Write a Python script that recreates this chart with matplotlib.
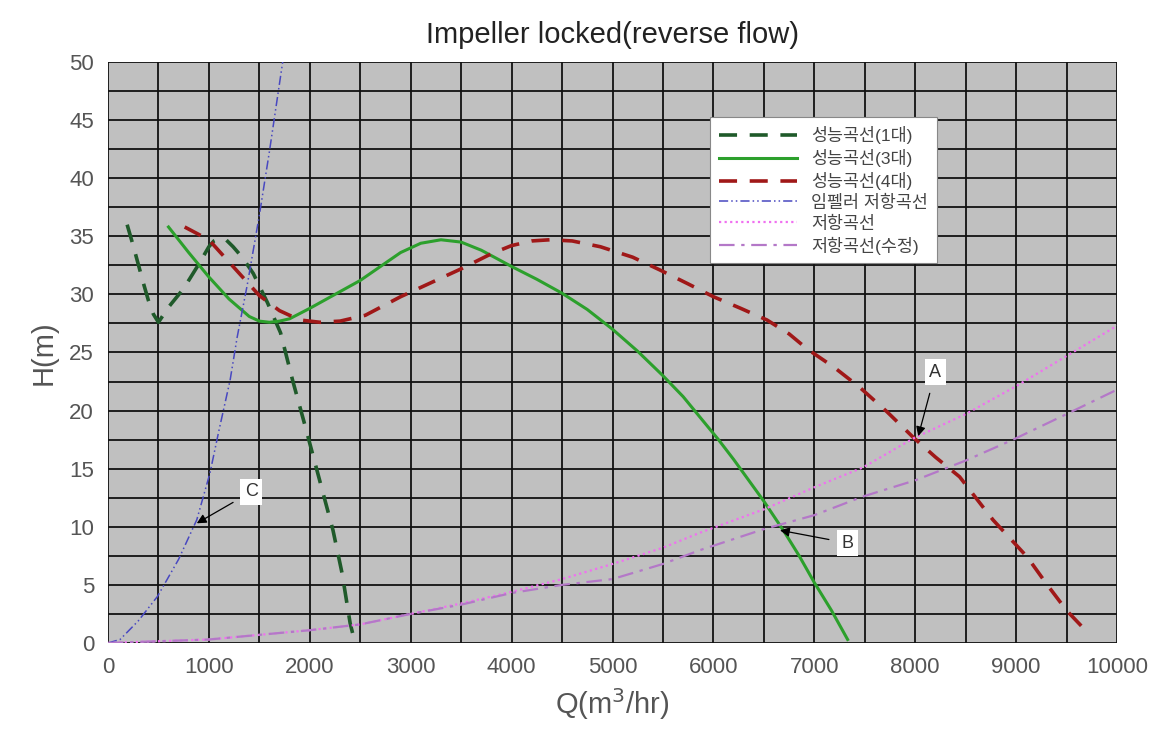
import matplotlib
matplotlib.use("Agg")
import matplotlib.pyplot as plt
from matplotlib.ticker import MultipleLocator

plt.rcParams['font.family'] = ['Liberation Sans', 'Noto Sans CJK KR', 'DejaVu Sans']

# Performance curve (1 unit)
q1 = [190, 250, 300, 350, 400, 450, 500, 600, 750, 900, 1000, 1050, 1100, 1170, 1240, 1330, 1440, 1580, 1710, 1830, 1950, 2070, 2150, 2230, 2320, 2400, 2440]
h1 = [36.0, 34.2, 32.6, 31.0, 29.5, 28.3, 27.6, 28.9, 30.5, 32.6, 34.1, 34.6, 34.8, 34.7, 34.1, 33.2, 31.8, 29.3, 26.7, 22.6, 18.8, 14.9, 12.3, 9.7, 6.0, 1.7, 0.3]

# Performance curve (3 units)
q3 = [600, 800, 1000, 1200, 1400, 1500, 1600, 1700, 1800, 2000, 2250, 2500, 2700, 2900, 3100, 3300, 3500, 3700, 4000, 4250, 4500, 4750, 5000, 5250, 5500, 5700, 5870, 6050, 6200, 6350, 6500, 6700, 6850, 7000, 7170, 7330]
h3 = [35.8, 33.6, 31.5, 29.6, 28.1, 27.7, 27.6, 27.7, 27.9, 28.8, 30.0, 31.2, 32.4, 33.6, 34.4, 34.7, 34.5, 33.8, 32.4, 31.3, 30.1, 28.7, 27.0, 25.1, 23.0, 21.2, 19.4, 17.5, 15.8, 14.0, 12.2, 9.6, 7.5, 5.2, 2.8, 0.3]

# Performance curve (4 units)
q4 = [760, 1000, 1250, 1500, 1700, 1900, 2100, 2300, 2550, 2900, 3200, 3500, 3800, 4000, 4200, 4380, 4600, 4880, 5200, 5470, 5750, 6000, 6270, 6530, 6750, 6930, 7200, 7450, 7720, 7980, 8200, 8440, 8600, 8770, 8940, 9110, 9300, 9500, 9730]
h4 = [35.8, 34.7, 32.3, 29.9, 28.6, 27.8, 27.6, 27.7, 28.2, 29.8, 31.0, 32.2, 33.5, 34.2, 34.6, 34.7, 34.6, 34.1, 33.2, 32.1, 30.9, 29.8, 28.8, 27.8, 26.6, 25.3, 23.7, 22.0, 19.9, 17.7, 16.0, 14.3, 12.5, 10.6, 9.0, 7.4, 5.1, 2.8, 0.7]

# Impeller resistance curve
qi = [0, 120, 300, 490, 700, 880, 1010, 1100, 1210, 1280, 1380, 1500, 1600, 1740]
hi = [0.0, 0.3, 1.9, 4.0, 7.2, 10.6, 14.6, 18.3, 22.6, 26.3, 30.8, 36.8, 42.3, 50.5]

# Resistance curve
qr = [0, 1000, 2000, 2500, 3000, 3500, 4000, 4500, 5000, 5500, 5870, 6500, 7000, 7480, 7980, 8500, 9000, 9500, 10000]
hr = [0.0, 0.3, 1.1, 1.6, 2.5, 3.4, 4.4, 5.5, 6.8, 8.2, 9.5, 11.5, 13.4, 15.1, 17.6, 19.7, 22.1, 24.7, 27.3]

# Resistance curve (modified)
qm = [0, 1000, 2000, 2500, 3000, 3500, 4000, 4500, 5000, 5500, 5870, 6500, 7000, 7480, 8000, 8500, 8970, 9500, 10000]
hm = [0.0, 0.3, 1.1, 1.6, 2.5, 3.3, 4.3, 5.0, 5.5, 6.8, 8.0, 9.8, 11.0, 12.6, 14.0, 15.7, 17.5, 19.7, 21.8]

labels = ['성능곡선(1대)', '성능곡선(3대)', '성능곡선(4대)', '임펠러 저항곡선', '저항곡선', '저항곡선(수정)']

# Annotations: label, arrow target, text position
ann_labels = ['A', 'B', 'C']
ann_xy = [(8030, 17.8), (6660, 9.7), (880, 10.3)]
ann_text = [(8200, 23.3), (7330, 8.6), (1420, 13.0)]

fig = plt.figure(figsize=(11.56, 7.31), dpi=100)
ax = fig.add_axes([0.0934, 0.1204, 0.8729, 0.7948])
ax.set_facecolor('#C0C0C0')

ax.plot(q1, h1, color='#1F5A2A', lw=2.6, ls=(0, (5, 3.5)), label=labels[0])
ax.plot(q3, h3, color='#2CA02C', lw=2.2, ls='-', label=labels[1])
ax.plot(q4, h4, color='#A01818', lw=2.6, ls=(0, (5, 3.5)), label=labels[2])
ax.plot(qi, hi, color='#4848C0', lw=1.1, ls=(0, (6, 2, 1, 2, 1, 2)), label=labels[3])
ax.plot(qr, hr, color='#F070F0', lw=1.6, ls=(0, (1, 1.5)), label=labels[4])
ax.plot(qm, hm, color='#B478C8', lw=1.6, ls=(0, (7, 3, 1.5, 3)), label=labels[5])

for lab, xy, xt in zip(ann_labels, ann_xy, ann_text):
    ax.annotate(lab, xy=xy, xytext=xt, fontsize=13, color='#333333',
                ha='center', va='center',
                bbox=dict(boxstyle='square,pad=0.25', fc='white', ec='none'),
                arrowprops=dict(arrowstyle='-|>', color='black', lw=0.9,
                                mutation_scale=14, shrinkA=6, shrinkB=0))

ax.set_xlim(0, 10000)
ax.set_ylim(0, 50)
ax.xaxis.set_major_locator(MultipleLocator(1000))
ax.xaxis.set_minor_locator(MultipleLocator(500))
ax.yaxis.set_major_locator(MultipleLocator(5))
ax.yaxis.set_minor_locator(MultipleLocator(2.5))
ax.grid(which='both', color='#111111', lw=1.3)
ax.set_axisbelow(True)
ax.tick_params(which='both', length=0, labelsize=16, labelcolor='#555555', pad=10)
for s in ax.spines.values():
    s.set_visible(False)

ax.set_xlabel('Q(m$^3$/hr)', fontsize=21, color='#555555', labelpad=6)
ax.set_ylabel('H(m)', fontsize=21, color='#555555', labelpad=8)
ax.set_title('Impeller locked(reverse flow)', fontsize=21, color='#222222', pad=14)

leg = ax.legend(loc='upper left', bbox_to_anchor=(0.597, 0.905), fontsize=12.5,
                frameon=True, fancybox=False, framealpha=1, edgecolor='#888888',
                handlelength=4.5, labelspacing=0.28, borderpad=0.5, borderaxespad=0,
                labelcolor='#444444')
leg.get_frame().set_linewidth(0.8)

fig.savefig('out.png', dpi=100)
